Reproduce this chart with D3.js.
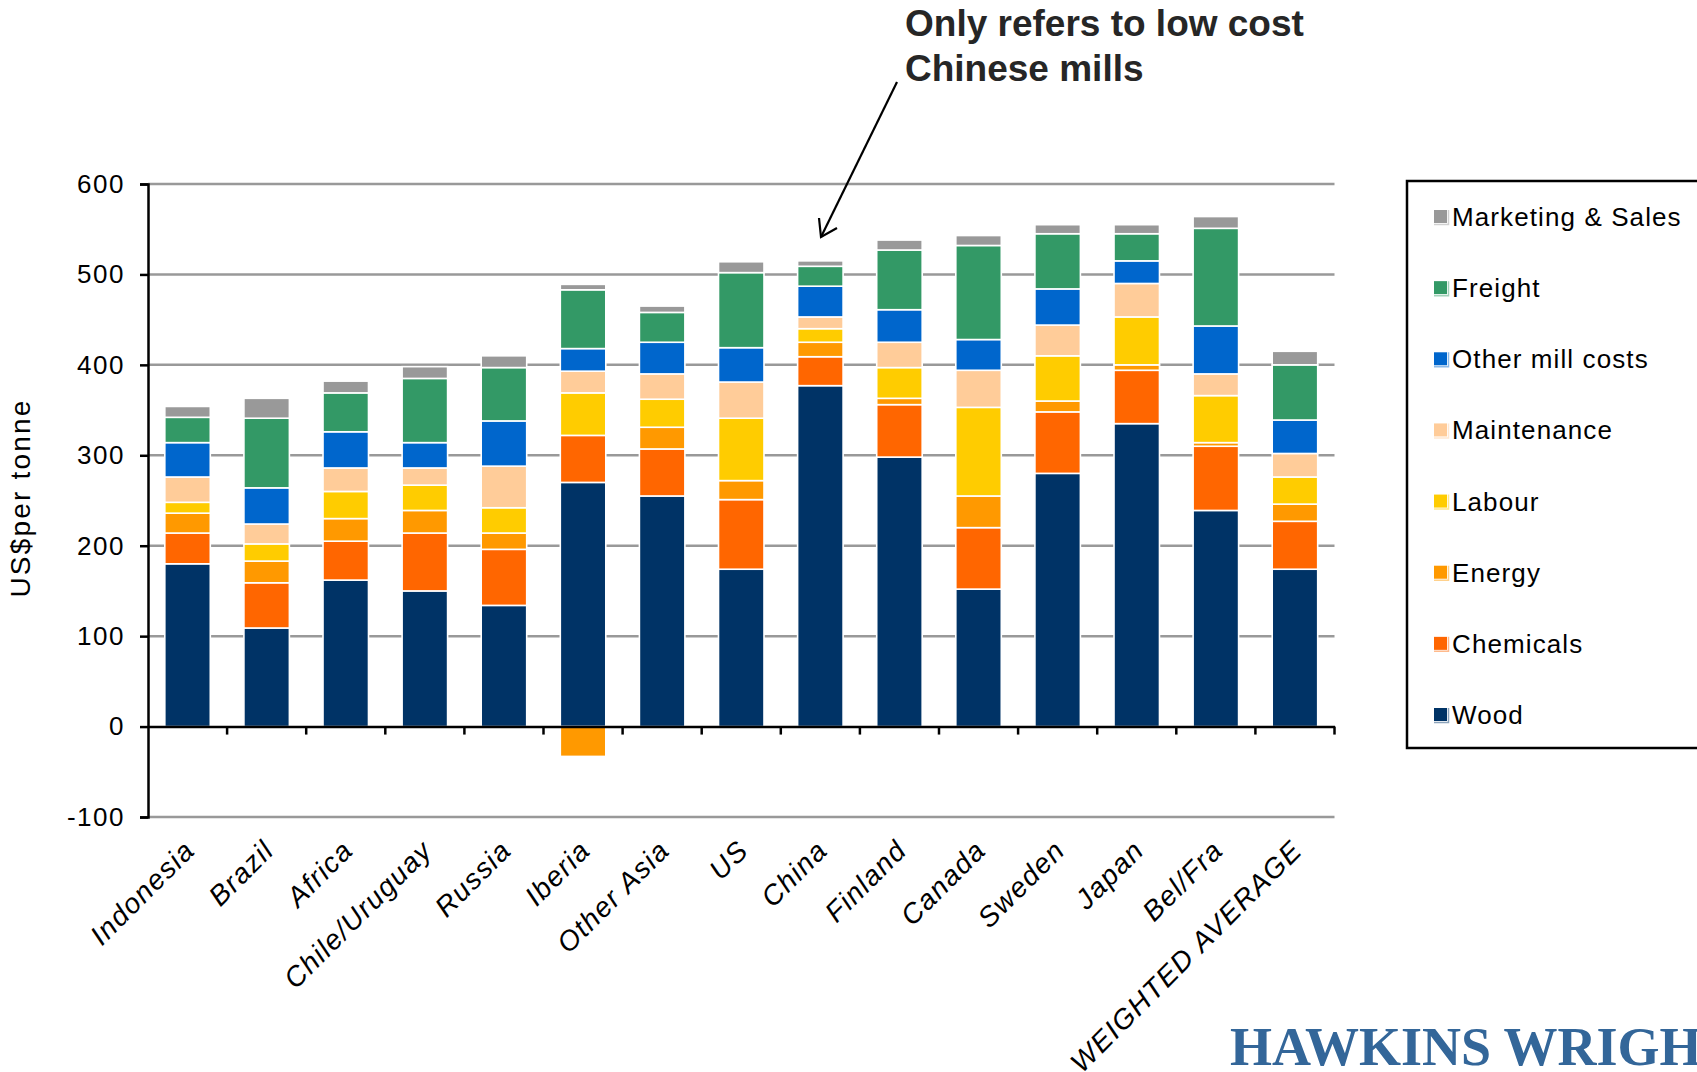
<!DOCTYPE html>
<html>
<head>
<meta charset="utf-8">
<script src="https://cdn.jsdelivr.net/npm/d3@7"></script>
<style>
  html, body { margin: 0; padding: 0; background: #fff; }
  svg { display: block; font-family: "Liberation Sans", Arial, sans-serif; }
</style>
</head>
<body>
<svg id="chart" width="1697" height="1072"></svg>
<script>
// Pulp mill cash cost by region, US$ per tonne, split by cost component
const categories = ["Indonesia", "Brazil", "Africa", "Chile/Uruguay", "Russia", "Iberia",
  "Other Asia", "US", "China", "Finland", "Canada", "Sweden", "Japan", "Bel/Fra", "WEIGHTED AVERAGE"];

const wood        = [180, 109, 162, 150, 134, 270, 255, 174, 377, 298, 152, 280, 335, 239, 174];
const chemicals   = [ 34,  50,  43,  64,  62,  52,  52,  77,  32,  58,  68,  68,  59,  71,  53];
const energy      = [ 22,  24,  25,  25,  18, -33,  24,  21,  16,   7,  35,  12,   6,   4,  19];
const labour      = [ 12,  19,  30,  28,  28,  47,  31,  69,  15,  34,  98,  50,  53,  52,  30];
const maintenance = [ 28,  22,  26,  19,  46,  24,  28,  40,  13,  28,  41,  34,  37,  24,  26];
const otherMill   = [ 38,  40,  40,  28,  50,  25,  35,  38,  34,  36,  34,  40,  25,  53,  37];
const freight     = [ 28,  77,  43,  71,  59,  65,  33,  83,  22,  66, 104,  61,  30, 108,  61];
const marketing   = [ 12,  22,  13,  13,  13,   6,   7,  12,   6,  11,  11,  10,  10,  13,  15];

const seriesNames = ["Wood", "Chemicals", "Energy", "Labour", "Maintenance",
  "Other mill costs", "Freight", "Marketing & Sales"];
const seriesValues = [wood, chemicals, energy, labour, maintenance, otherMill, freight, marketing];
const seriesColors = ["#003366", "#FF6600", "#FF9900", "#FFCC00", "#FFCC99",
  "#0066CC", "#339966", "#999999"];

const yTicks = [-100, 0, 100, 200, 300, 400, 500, 600];

// Rows for d3.stack
const rows = categories.map((c, i) => {
  const r = { category: c };
  seriesNames.forEach((s, k) => { r[s] = seriesValues[k][i]; });
  return r;
});

const svg = d3.select("#chart");

const plot = { left: 148, right: 1334.5, top: 184, bottom: 817 };

const x = d3.scaleBand().domain(categories).range([plot.left, plot.right]).padding(0);
const y = d3.scaleLinear().domain([-100, 600]).range([plot.bottom, plot.top]);
const barW = x.bandwidth() * 0.575;

// Horizontal gridlines
svg.append("g").selectAll("line")
  .data(yTicks.filter(t => t !== 0))
  .join("line")
  .attr("x1", plot.left).attr("x2", plot.right)
  .attr("y1", d => y(d)).attr("y2", d => y(d))
  .attr("stroke", "#999").attr("stroke-width", 2.5);

// Stacked bars (negative values drawn below zero)
const stack = d3.stack().keys(seriesNames).offset(d3.stackOffsetDiverging);
const stacked = stack(rows);

svg.append("g").selectAll("g")
  .data(stacked)
  .join("g")
  .attr("fill", (d, i) => seriesColors[i])
  .selectAll("rect")
  .data(d => d)
  .join("rect")
  .attr("x", d => x(d.data.category) + (x.bandwidth() - barW) / 2)
  .attr("width", barW)
  .attr("y", d => y(Math.max(d[0], d[1])))
  .attr("height", d => Math.abs(y(d[0]) - y(d[1])))
  .attr("stroke", "#fff")
  .attr("stroke-width", 1.6);

// Y axis
const yAxis = d3.axisLeft(y).tickValues(yTicks).tickSize(8).tickPadding(15)
  .tickFormat(d => String(d));
const gy = svg.append("g").attr("transform", `translate(${plot.left},0)`).call(yAxis);
gy.select(".domain").attr("stroke", "#000").attr("stroke-width", 2.5);
gy.selectAll(".tick line").attr("stroke", "#000").attr("stroke-width", 2.5);
gy.selectAll(".tick text")
  .attr("font-size", 26).attr("letter-spacing", 1.5).attr("fill", "#000")
  .attr("font-family", "Liberation Sans, Arial, sans-serif");

// Zero line with category separators
const xAxis = d3.axisBottom(x).tickSize(0).tickFormat("");
const gx = svg.append("g").attr("transform", `translate(0,${y(0)})`).call(xAxis);
gx.select(".domain").attr("stroke", "#000").attr("stroke-width", 2.5);
gx.selectAll(".tick").remove();
const sepPositions = categories.slice(1).map(c => x(c)).concat([plot.right]);
gx.selectAll("line.sep")
  .data(sepPositions)
  .join("line")
  .attr("class", "sep")
  .attr("x1", d => d).attr("x2", d => d)
  .attr("y1", 0).attr("y2", 8)
  .attr("stroke", "#000").attr("stroke-width", 2.5);

// Category labels, rotated
svg.append("g").selectAll("text")
  .data(categories)
  .join("text")
  .attr("transform", d => `translate(${x(d) + x.bandwidth() / 2 + 9},${plot.bottom + 35}) rotate(-45)`)
  .attr("text-anchor", "end")
  .attr("font-size", 28)
  .attr("font-style", "italic")
  .attr("letter-spacing", 1.4)
  .attr("fill", "#000")
  .text(d => d);

// Y axis title
svg.append("text")
  .attr("transform", `translate(30,498) rotate(-90)`)
  .attr("text-anchor", "middle")
  .attr("font-size", 28)
  .attr("letter-spacing", 2.2)
  .attr("fill", "#000")
  .text("US$per tonne");

// Legend
const legend = svg.append("g");
legend.append("rect")
  .attr("x", 1407).attr("y", 181)
  .attr("width", 320).attr("height", 567)
  .attr("fill", "#fff").attr("stroke", "#000").attr("stroke-width", 2.5);

const legendOrder = seriesNames.map((n, i) => ({ name: n, color: seriesColors[i] })).reverse();
const ly = d3.scalePoint().domain(legendOrder.map(d => d.name)).range([217, 715]);
const items = legend.selectAll("g.item")
  .data(legendOrder)
  .join("g")
  .attr("class", "item")
  .attr("transform", d => `translate(1434,${ly(d.name)})`);
items.append("rect")
  .attr("x", 0).attr("y", -7).attr("width", 13).attr("height", 13)
  .attr("fill", d => d.color);
items.append("path")
  .attr("d", "M0,7.5 H14.5 V-7")
  .attr("fill", "none")
  .attr("stroke", d => d3.interpolateRgb(d.color, "#fff")(0.55))
  .attr("stroke-width", 1.5);
items.append("text")
  .attr("x", 18).attr("y", 9)
  .attr("font-size", 26)
  .attr("letter-spacing", 1.1)
  .attr("fill", "#000")
  .text(d => d.name);

// Annotation pointing at China
const ann = svg.append("g");
ann.append("text")
  .attr("x", 905).attr("y", 36)
  .attr("font-size", 37).attr("font-weight", "bold").attr("fill", "#262626")
  .text("Only refers to low cost");
ann.append("text")
  .attr("x", 905).attr("y", 81)
  .attr("font-size", 37).attr("font-weight", "bold").attr("fill", "#262626")
  .text("Chinese mills");
ann.append("line")
  .attr("x1", 897).attr("y1", 82).attr("x2", 821).attr("y2", 237)
  .attr("stroke", "#000").attr("stroke-width", 2.2);
ann.append("path")
  .attr("d", "M819,218 L821,237 L837,228")
  .attr("fill", "none").attr("stroke", "#000").attr("stroke-width", 2.2);

// Brand mark
svg.append("text")
  .attr("transform", "translate(1230,1065)")
  .style("font-family", "'Liberation Serif', 'Times New Roman', serif")
  .attr("font-weight", "bold")
  .attr("font-size", 54)
  .attr("fill", "#336699")
  .text("HAWKINS WRIGHT");
</script>
</body>
</html>
